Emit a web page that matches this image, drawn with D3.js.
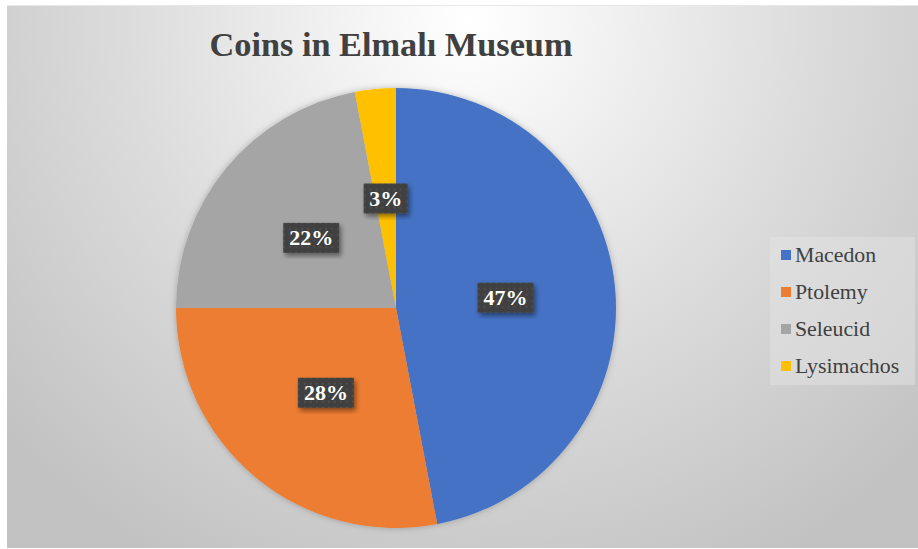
<!DOCTYPE html>
<html><head><meta charset="utf-8">
<script src="https://cdn.jsdelivr.net/npm/d3@7/dist/d3.min.js"></script>
<style>html,body{margin:0;padding:0;background:#fff;}svg{display:block;}
.serif{font-family:"Liberation Serif","Times New Roman",Times,"DejaVu Serif",serif;}</style>
</head><body>
<svg id="chart" width="918" height="549"></svg>
<script>
const categories = ["Macedon", "Ptolemy", "Seleucid", "Lysimachos"];
const values = [47, 28, 22, 3];
const colors = ["#4472C4", "#ED7D31", "#A5A5A5", "#FFC000"];
const title = "Coins in Elmalı Museum";

const svg = d3.select("#chart");
const W = 918, H = 549;
const defs = svg.append("defs");

const bg = defs.append("radialGradient").attr("id","bg")
  .attr("gradientUnits","userSpaceOnUse")
  .attr("cx",470).attr("cy",20).attr("r",620);
bg.append("stop").attr("offset","0").attr("stop-color","#ffffff");
bg.append("stop").attr("offset","0.15").attr("stop-color","#f6f6f6");
bg.append("stop").attr("offset","0.55").attr("stop-color","#dcdcdc");
bg.append("stop").attr("offset","1").attr("stop-color","#c2c2c2");

const pat = defs.append("pattern").attr("id","dots").attr("patternUnits","userSpaceOnUse")
  .attr("width",6).attr("height",6);
pat.append("rect").attr("width",6).attr("height",6).attr("fill","#404040");
pat.append("circle").attr("cx",3).attr("cy",3).attr("r",0.9).attr("fill","#555555");

const sh = defs.append("filter").attr("id","shadow").attr("x","-20%").attr("y","-20%").attr("width","140%").attr("height","140%");
sh.append("feDropShadow").attr("dx",2).attr("dy",3).attr("stdDeviation",2.5).attr("flood-color","#000").attr("flood-opacity",0.45);
const psh = defs.append("filter").attr("id","pshadow").attr("x","-10%").attr("y","-10%").attr("width","120%").attr("height","120%");
psh.append("feDropShadow").attr("dx",0).attr("dy",0).attr("stdDeviation",3).attr("flood-color","#000").attr("flood-opacity",0.25);

svg.append("rect").attr("x",7).attr("y",5).attr("width",W-7).attr("height",543).attr("fill","url(#bg)");
svg.append("line").attr("x1",7).attr("x2",W).attr("y1",5.5).attr("y2",5.5).attr("stroke","#e8e8e8").attr("stroke-width",1);

svg.append("text").attr("class","serif").attr("x",391).attr("y",56).attr("text-anchor","middle")
  .attr("font-weight","bold")
  .attr("font-size",34.3).attr("fill","#404040").text(title);

const cx = 396, cy = 308, r = 220;
const pie = d3.pie().sort(null).value(d => d)(values);
const arc = d3.arc().innerRadius(0).outerRadius(r);
const g = svg.append("g").attr("transform",`translate(${cx},${cy})`);
g.append("g").attr("filter","url(#pshadow)").selectAll("path").data(pie).join("path")
  .attr("d",arc).attr("fill",(d,i)=>colors[i]);

const lab = g.selectAll("g.lab").data(pie).join("g").attr("class","lab")
  .attr("transform",d=>`translate(${arc.centroid(d)})`);
lab.each(function(d){
  const s = d3.select(this);
  const t = d.data + "%";
  const w = t.length === 2 ? 44 : 56;
  s.append("rect").attr("x",-w/2).attr("y",-15).attr("width",w).attr("height",30)
    .attr("fill","url(#dots)").attr("filter","url(#shadow)");
  s.append("text").attr("class","serif").attr("text-anchor","middle").attr("y",7.5)
    .attr("font-weight","bold")
    .attr("font-size",22).attr("fill","#ffffff").text(t);
});

const lg = svg.append("g");
lg.append("rect").attr("x",770).attr("y",237).attr("width",145).attr("height",148).attr("fill","#e4e4e4").attr("opacity",0.5);
const yScale = d3.scalePoint().domain(categories).range([255, 366]);
const items = lg.selectAll("g.item").data(categories).join("g").attr("class","item")
  .attr("transform",d=>`translate(781,${yScale(d)})`);
items.append("rect").attr("x",0).attr("y",-5).attr("width",10).attr("height",10).attr("fill",(d,i)=>colors[i]);
items.append("text").attr("class","serif").attr("x",14).attr("y",7)
  .attr("font-size",21.8)
  .attr("fill","#404040").text(d=>d);
</script>
</body></html>
